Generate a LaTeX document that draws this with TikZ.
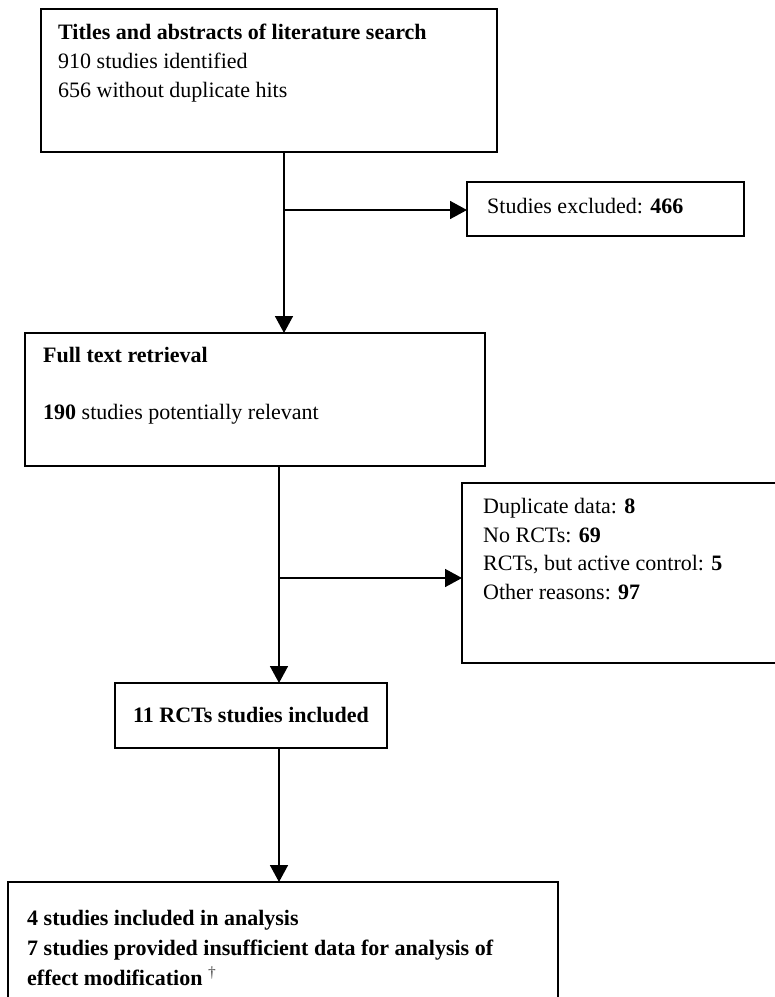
\documentclass[tikz,border=0pt]{standalone}
\usepackage{fontspec}
\setmainfont{Liberation Serif}
\usetikzlibrary{arrows.meta}

\begin{document}
\begin{tikzpicture}[x=1pt,y=-1pt,
 box/.style={draw,line width=1.6pt,anchor=north west,inner sep=0pt,outer sep=0pt},
 txt/.style={anchor=north west,inner sep=0pt,align=left,font=\fontsize{22}{28.7}\selectfont},
 flow/.style={line width=1.6pt,-{Triangle[length=17pt,width=18pt]}}]
 \useasboundingbox (0,0) rectangle (775,997);
 \clip (0,0) rectangle (775,997);
 \node[box,minimum width=456pt,minimum height=143pt] (search) at (41,9) {};
 \node[box,minimum width=277pt,minimum height=54pt] (excl) at (467,182) {};
 \node[box,minimum width=460pt,minimum height=133pt] (full) at (25,333) {};
 \node[box,minimum width=330pt,minimum height=180pt] (reasons) at (462,483) {};
 \node[box,minimum width=272pt,minimum height=65pt] (rcts) at (115,683) {};
 \node[box,minimum width=550pt,minimum height=140pt] (final) at (8,882) {};
 \node[txt] (searchtxt) at (58,24) {\textbf{Titles and abstracts of literature search}\\910 studies identified\\656 without duplicate hits};
 \node[txt] (excltxt) at (487,198) {Studies excluded: \textbf{466}};
 \node[txt] (fulltxt) at (43,347) {\textbf{Full text retrieval}\\[28pt]\textbf{190} studies potentially relevant};
 \node[txt] (reasonstxt) at (483,498) {Duplicate data: \textbf{8}\\No RCTs: \textbf{69}\\RCTs, but active control: \textbf{5}\\Other reasons: \textbf{97}};
 \node[txt] (rctstxt) at (133,707) {\textbf{11 RCTs studies included}};
 \node[txt,font=\fontsize{22}{30}\selectfont] (finaltxt) at (27,910) {\textbf{4 studies included in analysis}\\\textbf{7 studies provided insufficient data for analysis of}\\\textbf{effect modification} \textsuperscript{\textcolor{darkgray}{†}}};
 \coordinate (split1) at (284,210);
 \coordinate (split2) at (279,578);
 \draw[flow] (search.south -| split1) -- (full.north -| split1);
 \draw[flow] (split1) -- (split1 -| excl.west);
 \draw[flow] (full.south -| split2) -- (rcts.north -| split2);
 \draw[flow] (split2) -- (split2 -| reasons.west);
 \draw[flow] (rcts.south -| split2) -- (final.north -| split2);
\end{tikzpicture}
\end{document}
